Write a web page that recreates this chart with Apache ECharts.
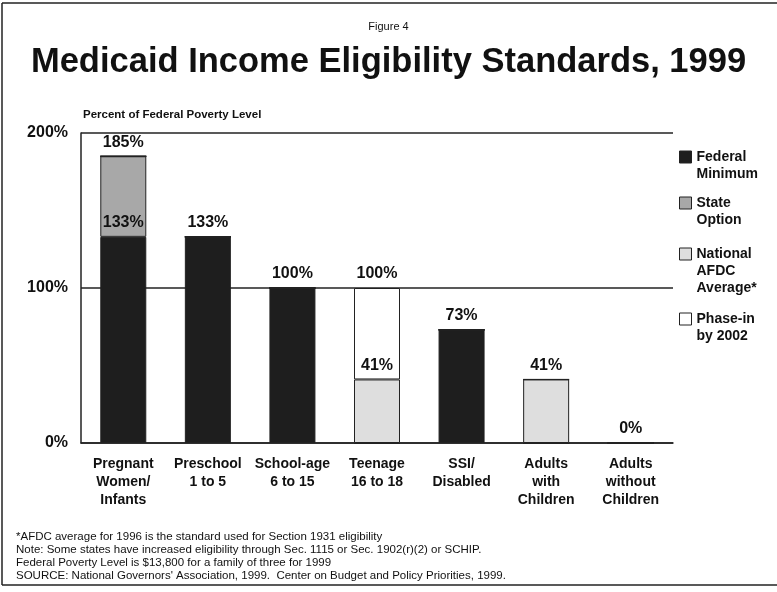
<!DOCTYPE html>
<html>
<head>
<meta charset="utf-8">
<script src="https://cdn.jsdelivr.net/npm/echarts@6/dist/echarts.min.js"></script>
<style>
html,body{margin:0;padding:0;background:#fff;}
#chart{width:777px;height:592px;}
</style>
</head>
<body>
<div id="chart"></div>
<script>
// categories and values (percent of federal poverty level)
var categories = ['Pregnant\nWomen/\nInfants', 'Preschool\n1 to 5', 'School-age\n6 to 15', 'Teenage\n16 to 18',
  'SSI/\nDisabled', 'Adults\nwith\nChildren', 'Adults\nwithout\nChildren'];
var federalMin = [133, 133, 100, 0, 73, 0, 0];
var stateOption = [52, 0, 0, 0, 0, 0, 0];
var afdcAverage = [0, 0, 0, 41, 0, 41, 0];
var phaseIn = [0, 0, 0, 59, 0, 0, 0];
var yTicks = [0, 100, 200];
var seriesNames = ['Federal\nMinimum', 'State\nOption', 'National\nAFDC\nAverage*', 'Phase-in\nby 2002'];
var footnotes = [
  '*AFDC average for 1996 is the standard used for Section 1931 eligibility',
  'Note: Some states have increased eligibility through Sec. 1115 or Sec. 1902(r)(2) or SCHIP.',
  'Federal Poverty Level is $13,800 for a family of three for 1999',
  "SOURCE: National Governors' Association, 1999.  Center on Budget and Policy Priorities, 1999."
];

var chart = echarts.init(document.getElementById('chart'));

var font = '"Liberation Sans", Arial, sans-serif';
var colors = ['#1e1e1e', '#a8a8a8', '#dedede', '#ffffff'];
var stacks = [federalMin, stateOption, afdcAverage, phaseIn];

// running totals so the label on each segment shows the stacked height
var totals = categories.map(function (c, i) {
  return stacks.reduce(function (s, arr) { return s + arr[i]; }, 0);
});

function makeData(k) {
  return stacks[k].map(function (v, i) {
    var cum = 0;
    for (var j = 0; j <= k; j++) cum += stacks[j][i];
    var show = v > 0 || (k === 0 && totals[i] === 0);
    return { value: v, label: { show: show, formatter: cum + '%' } };
  });
}

var series = stacks.map(function (arr, k) {
  return {
    name: seriesNames[k],
    type: 'bar',
    stack: 'all',
    barWidth: 46,
    data: makeData(k),
    itemStyle: { color: colors[k], borderColor: '#222', borderWidth: 1 },
    label: {
      position: 'top', distance: 6,
      fontFamily: font, fontSize: 16, fontWeight: 'bold', color: '#111'
    },
    emphasis: { disabled: true }
  };
});

// one legend per entry; blank lines on top keep the box level with the first text line
var L = 17;
var iconCenters = [157, 203, 254, 319];
var legends = seriesNames.map(function (name, k) {
  var n = name.split('\n').length;
  var pad = new Array(n).join('\n');
  return {
    left: 679,
    top: iconCenters[k] - (2 * n - 1) * L / 2,
    padding: 0,
    orient: 'vertical',
    icon: 'rect',
    itemWidth: 12, itemHeight: 12,
    data: [name],
    selectedMode: false,
    formatter: function (nm) { return pad + nm; },
    itemStyle: { borderColor: '#222', borderWidth: 1 },
    textStyle: {
      fontFamily: font, fontSize: 14, fontWeight: 'bold', color: '#111', lineHeight: L
    }
  };
});

var graphics = [
  { type: 'line', shape: { x1: 2, y1: 3, x2: 777, y2: 3 }, style: { stroke: '#222', lineWidth: 1.5 } },
  { type: 'line', shape: { x1: 2, y1: 3, x2: 2, y2: 585 }, style: { stroke: '#222', lineWidth: 1.5 } },
  { type: 'line', shape: { x1: 2, y1: 585, x2: 777, y2: 585 }, style: { stroke: '#222', lineWidth: 1.5 } }
];
footnotes.forEach(function (t, i) {
  graphics.push({
    type: 'text', left: 16, top: 531 + i * 13,
    style: { text: t, font: '11.5px ' + font, fill: '#111' }
  });
});

chart.setOption({
  backgroundColor: '#fff',
  animation: false,
  title: [
    { text: 'Figure 4', left: 'center', top: 16,
      textStyle: { fontFamily: font, fontSize: 11, fontWeight: 'normal', color: '#111' } },
    { text: 'Medicaid Income Eligibility Standards, 1999', left: 'center', top: 40,
      textStyle: { fontFamily: font, fontSize: 34.5, fontWeight: 'bold', color: '#111' } }
  ],
  legend: legends,
  grid: { left: 81, right: 104, top: 133, bottom: 149 },
  xAxis: {
    type: 'category',
    data: categories,
    axisLine: { lineStyle: { color: '#222', width: 1.5 } },
    axisTick: { show: false },
    axisLabel: {
      interval: 0, margin: 12,
      fontFamily: font, fontSize: 14, fontWeight: 'bold', color: '#111', lineHeight: 18
    }
  },
  yAxis: {
    type: 'value',
    min: yTicks[0], max: yTicks[yTicks.length - 1], interval: 100,
    name: 'Percent of Federal Poverty Level',
    nameLocation: 'end', nameGap: 12,
    nameTextStyle: { fontFamily: font, fontSize: 11.5, fontWeight: 'bold', color: '#111', align: 'left', padding: [0, 0, 0, 2] },
    axisLine: { show: true, lineStyle: { color: '#222', width: 1.5 } },
    axisTick: { show: false },
    splitLine: { lineStyle: { color: '#222', width: 1.5 } },
    axisLabel: {
      margin: 13, formatter: '{value}%',
      fontFamily: font, fontSize: 16, fontWeight: 'bold', color: '#111'
    }
  },
  series: series,
  graphic: graphics
});
</script>
</body>
</html>
